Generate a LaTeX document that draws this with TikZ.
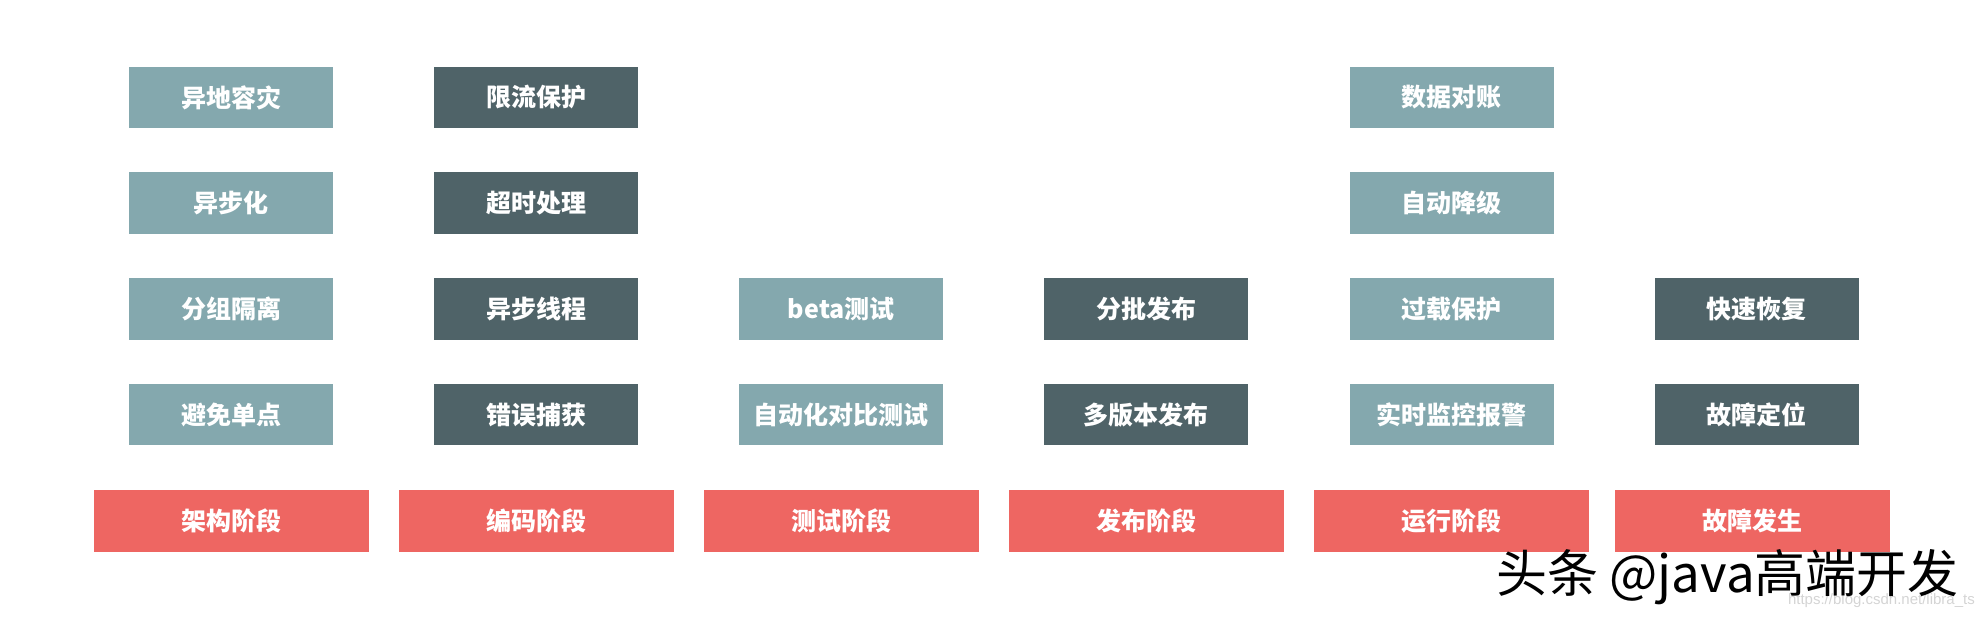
\documentclass[tikz,border=0pt]{standalone}
\usepackage{fontspec}
\newfontfamily\cjk{Noto Sans CJK SC}
\newfontfamily\arial{Liberation Sans}
\definecolor{lightbox}{HTML}{84A8AE}
\definecolor{darkbox}{HTML}{4F6368}
\definecolor{redbox}{HTML}{EE6662}
\definecolor{faint}{HTML}{D4D4D4}
\tikzset{
  box/.style={minimum width=204pt, minimum height=61.6pt, inner sep=0pt, text=white, font=\cjk\bfseries\fontsize{25pt}{28pt}\selectfont},
  lbox/.style={box, fill=lightbox},
  dbox/.style={box, fill=darkbox},
  rbox/.style={box, fill=redbox, minimum width=275pt},
}
\begin{document}
\begin{tikzpicture}[x=1pt,y=-1pt]
\useasboundingbox (0,0) rectangle (1985,618);
% column 1
\node[lbox] (a1) at (231,97.5) {异地容灾};
\node[lbox] (a2) at (231,203.2) {异步化};
\node[lbox] (a3) at (231,308.9) {分组隔离};
\node[lbox] (a4) at (231,414.6) {避免单点};
% column 2
\node[dbox] (b1) at (536.2,97.5) {限流保护};
\node[dbox] (b2) at (536.2,203.2) {超时处理};
\node[dbox] (b3) at (536.2,308.9) {异步线程};
\node[dbox] (b4) at (536.2,414.6) {错误捕获};
% column 3
\node[lbox] (c3) at (841.3,308.9) {beta测试};
\node[lbox] (c4) at (841.3,414.6) {自动化对比测试};
% column 4
\node[dbox] (d3) at (1146.4,308.9) {分批发布};
\node[dbox] (d4) at (1146.4,414.6) {多版本发布};
% column 5
\node[lbox] (e1) at (1451.5,97.5) {数据对账};
\node[lbox] (e2) at (1451.5,203.2) {自动降级};
\node[lbox] (e3) at (1451.5,308.9) {过载保护};
\node[lbox] (e4) at (1451.5,414.6) {实时监控报警};
% column 6
\node[dbox] (f3) at (1756.5,308.9) {快速恢复};
\node[dbox] (f4) at (1756.5,414.6) {故障定位};
% stages
\node[rbox] (s1) at (231,520.8) {架构阶段};
\node[rbox] (s2) at (536.2,520.8) {编码阶段};
\node[rbox] (s3) at (841.3,520.8) {测试阶段};
\node[rbox] (s4) at (1146.4,520.8) {发布阶段};
\node[rbox] (s5) at (1451.5,520.8) {运行阶段};
\node[rbox] (s6) at (1752.4,520.8) {故障发生};
% watermarks
\node[anchor=south east, inner sep=0pt, text=faint, font=\arial\fontsize{15pt}{17pt}\selectfont] (wm2) at (1975,608) {https://blog.csdn.net/libra\_ts};
\node[anchor=west, inner sep=0pt, text=black, font=\cjk\fontsize{51pt}{55pt}\selectfont] (wm) at (1496,577) {头条 @java高端开发};
\end{tikzpicture}
\end{document}
